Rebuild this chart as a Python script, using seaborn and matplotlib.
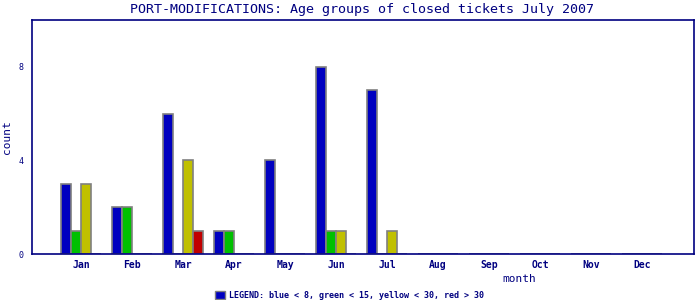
import matplotlib
matplotlib.use("Agg")
import matplotlib.pyplot as plt
import seaborn as sns
import pandas as pd
from matplotlib.patches import Rectangle

months = ["Jan", "Feb", "Mar", "Apr", "May", "Jun", "Jul", "Aug", "Sep", "Oct", "Nov", "Dec"]
blue = [3, 2, 6, 1, 4, 8, 7, 0, 0, 0, 0, 0]
green = [1, 2, 0, 1, 0, 1, 0, 0, 0, 0, 0, 0]
yellow = [3, 0, 4, 0, 0, 1, 1, 0, 0, 0, 0, 0]
red = [0, 0, 1, 0, 0, 0, 0, 0, 0, 0, 0, 0]
groups = ["blue", "green", "yellow", "red"]
colors = ["#0000C0", "#00C000", "#C0C000", "#C00000"]

rows = []
for g, vals in zip(groups, [blue, green, yellow, red]):
    for m, v in zip(months, vals):
        rows.append({"month": m, "count": v, "group": g})
df = pd.DataFrame(rows)

sns.set_style("white")
plt.rcParams["font.family"] = ["DejaVu Sans Mono", "DejaVu Sans"]
navy = "#000080"

fig = plt.figure(figsize=(7, 3), dpi=100)
ax = fig.add_axes([32 / 700, 46 / 300, 662 / 700, 234 / 300])
sns.barplot(data=df, x="month", y="count", hue="group", order=months,
            hue_order=groups, palette=colors, saturation=1, dodge=True, width=0.8,
            edgecolor="#808080", linewidth=1.2, ax=ax, legend=False)

ax.set_xlim(-0.96, 12.02)
ax.set_ylim(0, 10)
ax.set_yticks([0, 2, 4, 6, 8])
ax.set_yticklabels(["0", "", "4", "", "8"])
for s in ax.spines.values():
    s.set_color(navy)
    s.set_linewidth(1.2)
ax.tick_params(axis="y", direction="out", length=4, color=navy, labelcolor=navy, labelsize=6, pad=2)
ax.tick_params(axis="x", direction="in", length=4, color=navy, labelcolor=navy, labelsize=7, pad=4)
for lbl in ax.get_xticklabels():
    lbl.set_fontweight("bold")
ax.set_xlabel("month", color=navy, fontsize=8)
ax.xaxis.set_label_coords((519 - 32) / 662, -0.085)
ax.set_ylabel("count", color=navy, fontsize=8)
ax.yaxis.set_label_coords(-0.03, 0.5)

fig.text(362 / 700, 1 - 10 / 300, "PORT-MODIFICATIONS: Age groups of closed tickets July 2007",
         ha="center", va="center", color=navy, fontsize=9.6)
fig.patches.append(Rectangle((215 / 700, 1 - 299 / 300), 10 / 700, 8 / 300,
                             transform=fig.transFigure, facecolor="#0000C0",
                             edgecolor="#808080", linewidth=1))
fig.text(229 / 700, 1 - 295 / 300, "LEGEND: blue < 8, green < 15, yellow < 30, red > 30",
         ha="left", va="center", color=navy, fontsize=6, fontweight="bold")

fig.savefig("out.png", dpi=100)
